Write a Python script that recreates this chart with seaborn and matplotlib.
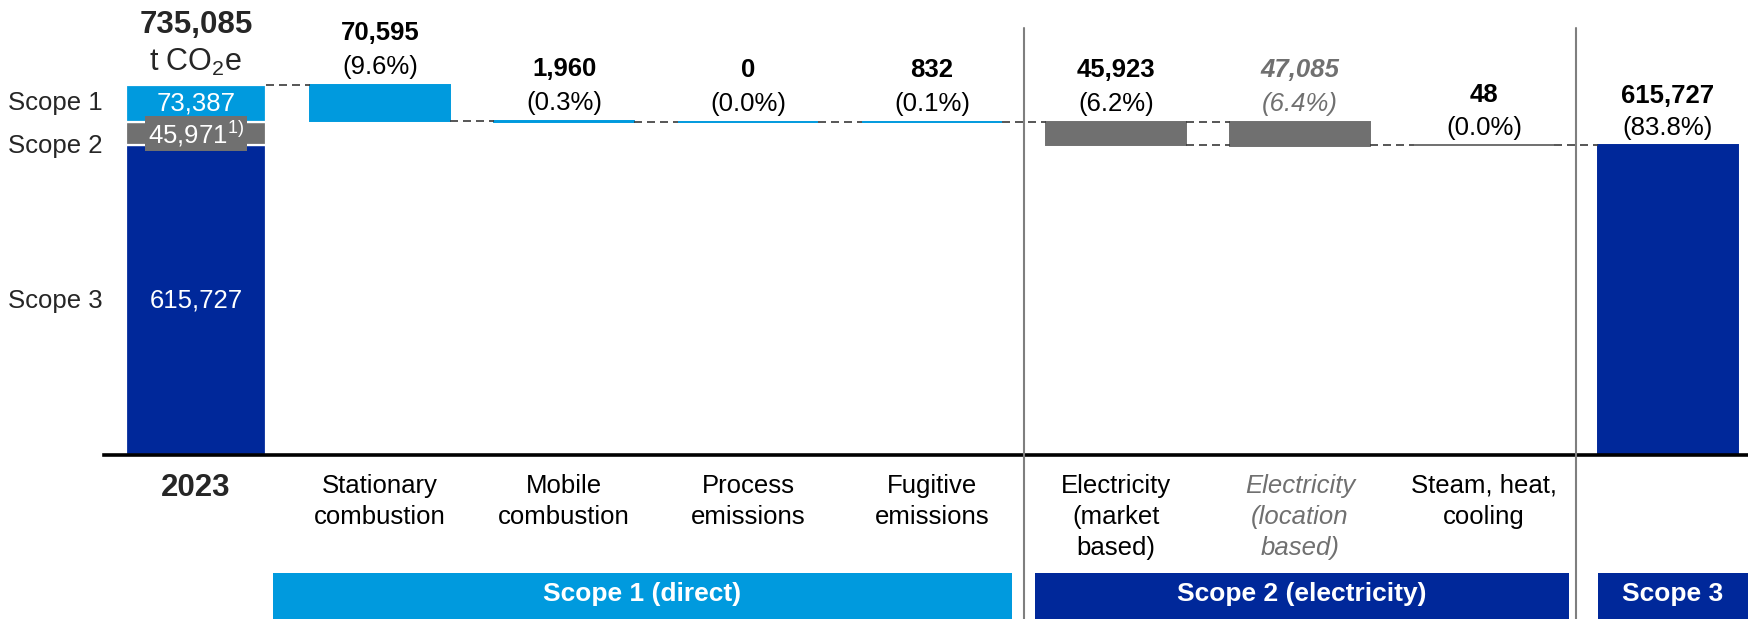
import numpy as np
import pandas as pd
import matplotlib
matplotlib.use("Agg")
import matplotlib.pyplot as plt
from matplotlib.patches import Rectangle
from matplotlib.lines import Line2D
from matplotlib.transforms import blended_transform_factory
import seaborn as sns

# ---- data -------------------------------------------------------------
total_2023 = 735085
scope_totals = [73387, 45971, 615727]          # Scope 1, Scope 2, Scope 3
scope_names = ["Scope 1", "Scope 2", "Scope 3"]

step_labels = ["Stationary\ncombustion", "Mobile\ncombustion", "Process\nemissions",
               "Fugitive\nemissions", "Electricity\n(market\nbased)",
               "Electricity\n(location\nbased)", "Steam, heat,\ncooling"]
step_values = [70595, 1960, 0, 832, 45923, 47085, 48]
step_scope = [1, 1, 1, 1, 2, 2, 2]
step_alt = [False, False, False, False, False, True, False]   # location-based: shown for reference only

scope3_value = 615727
year_label = "2023"
band_labels = ["Scope 1 (direct)", "Scope 2 (electricity)", "Scope 3"]

# ---- style ------------------------------------------------------------
C_S1 = "#009ADE"
C_S2 = "#707070"
C_S3 = "#00289A"
C_DASH = "#3a3a3a"
C_SEP = "#7f7f7f"

sns.set_theme(style="white")
plt.rcParams["font.family"] = ["Liberation Sans", "DejaVu Sans"]
plt.rcParams["mathtext.fontset"] = "custom"
plt.rcParams["mathtext.rm"] = "Liberation Sans"
plt.rcParams["mathtext.it"] = "Liberation Sans:italic"
plt.rcParams["mathtext.bf"] = "Liberation Sans:bold"

W, H, DPI = 1748, 619, 100
fig = plt.figure(figsize=(W / DPI, H / DPI), dpi=DPI)
base_px = 455
ax = fig.add_axes([104 / W, 1 - base_px / H, 1 - 104 / W, base_px / H])

# ---- build bar segments ----------------------------------------------
rows = []
# stacked 2023 bar (bottom to top: scope 3, scope 2, scope 1)
stack_colors = {1: C_S1, 2: C_S2, 3: C_S3}
lo = 0
for k in (3, 2, 1):
    v = scope_totals[k - 1]
    rows.append(dict(seg=f"2023-s{k}", pos=0, low=lo, high=lo + v,
                     color=stack_colors[k], stacked=True))
    lo += v

# waterfall steps; an alternative step starts where the previous step started
level = total_2023
step_ranges = []
for i, (v, sc, alt) in enumerate(zip(step_values, step_scope, step_alt)):
    top = step_ranges[i - 1][0] if alt else level
    bot = top - v
    step_ranges.append((top, bot))
    rows.append(dict(seg=f"step{i}", pos=i + 1, low=bot, high=top,
                     color=C_S1 if sc == 1 else C_S2, stacked=False))
    if not alt:
        level = bot
rows.append(dict(seg="scope3", pos=len(step_values) + 1, low=0, high=scope3_value,
                 color=C_S3, stacked=False))

df = pd.DataFrame(rows)
df["height"] = df["high"] - df["low"]

bar_w = 0.761
sns.barplot(data=df, x="pos", y="height", hue="seg", hue_order=list(df["seg"]),
            palette=dict(zip(df["seg"], df["color"])), dodge=False,
            native_scale=True, width=bar_w, saturation=1, legend=False, ax=ax)

for patch, r in zip(ax.patches, df.itertuples()):
    patch.set_y(r.low)
    patch.set_height(r.high - r.low)
    if r.stacked:
        patch.set_edgecolor("white")
        patch.set_linewidth(1.6)
    else:
        patch.set_edgecolor(r.color)
        patch.set_linewidth(1.4)

ax.set_xlim(-0.5, (W - 196) / 184)
ax.set_ylim(0, total_2023 * base_px / 370)
ax.set_xlabel("")
ax.set_ylabel("")
ax.set_xticks([])
ax.set_yticks([])
for s in ("left", "right", "top"):
    ax.spines[s].set_visible(False)
ax.spines["bottom"].set_color("black")
ax.spines["bottom"].set_linewidth(2.6)

# ---- dashed connectors ------------------------------------------------
half = bar_w / 2
dash_kw = dict(color=C_DASH, lw=1.2, linestyle=(0, (4.8, 3)), clip_on=False, zorder=1)
ax.plot([0 + half, 1 - half], [total_2023] * 2, **dash_kw)
for i in range(len(step_values) - 1):
    top_i, bot_i = step_ranges[i]
    x0, x1 = i + 1 + half, i + 2 - half
    if step_alt[i + 1]:
        # parallel alternative bar: connect at both ends
        ax.plot([x0, x1], [top_i] * 2, **dash_kw)
        ax.plot([x0, x1], [bot_i] * 2, **dash_kw)
    else:
        ax.plot([x0, x1], [step_ranges[i + 1][0]] * 2, **dash_kw)
last = len(step_values)
ax.plot([last + half, last + 1 - half], [scope3_value] * 2, **dash_kw)

# ---- value labels -----------------------------------------------------
FS = 18.5
def pct(v):
    return f"({100 * v / total_2023:.1f}%)"

def top_labels(x, top, val, alt=False, dv=52, dp=18):
    col = C_S2 if alt else "black"
    style = "italic" if alt else "normal"
    ax.annotate(f"{val:,}", (x, top), xytext=(0, dv), textcoords="offset pixels",
                ha="center", va="center", fontsize=FS, fontweight="bold",
                color=col, style=style, annotation_clip=False)
    ax.annotate(pct(val), (x, top), xytext=(0, dp), textcoords="offset pixels",
                ha="center", va="center", fontsize=FS, color=col, style=style,
                annotation_clip=False)

for i, v in enumerate(step_values):
    small2 = v < 1000 and step_scope[i] == 2
    top_labels(i + 1, step_ranges[i][0], v, alt=step_alt[i],
               dv=50 if small2 else 52, dp=17 if small2 else 18)
top_labels(last + 1, scope3_value, scope3_value, dv=49, dp=17)

ax.annotate(f"{total_2023:,}", (0, total_2023), xytext=(0, 60), textcoords="offset pixels",
            ha="center", va="center", fontsize=22.5, fontweight="bold", annotation_clip=False)
ax.annotate(r"t CO$_\mathregular{2}$e", (0, total_2023), xytext=(0, 23), textcoords="offset pixels",
            ha="center", va="center", fontsize=22, annotation_clip=False)

# values inside the stacked bar
s1_mid = total_2023 - scope_totals[0] / 2
s2_mid = scope_totals[2] + scope_totals[1] / 2
s3_mid = scope_totals[2] / 2
ax.text(0, s1_mid, f"{scope_totals[0]:,}", ha="center", va="center", color="white", fontsize=FS)
ax.text(0, s2_mid, f"{scope_totals[1]:,}" + r"$^{\mathregular{1)}}$", ha="center", va="center",
        color="white", fontsize=FS,
        bbox=dict(boxstyle="square,pad=0.1", fc=C_S2, ec="none"))
ax.text(0, s3_mid, f"{scope_totals[2]:,}", ha="center", va="center", color="white", fontsize=FS)

# scope names left of the stacked bar
for name, y, dy in zip(scope_names, [s1_mid, s2_mid, s3_mid], [0, -12, -1]):
    ax.annotate(name, xy=(8 / W, y), xycoords=("figure fraction", "data"),
                xytext=(0, dy), textcoords="offset pixels",
                ha="left", va="center", fontsize=FS, annotation_clip=False)

# ---- category labels --------------------------------------------------
ax.annotate(year_label, (0, 0), xytext=(0, -18), textcoords="offset pixels",
            ha="center", va="top", fontsize=22.5, fontweight="bold", annotation_clip=False)
for i, lab in enumerate(step_labels):
    alt = step_alt[i]
    ax.annotate(lab, (i + 1, 0), xytext=(0, -19), textcoords="offset pixels",
                ha="center", va="top", fontsize=18.5, linespacing=1.38,
                color=C_S2 if alt else "black", style="italic" if alt else "normal",
                annotation_clip=False)

# ---- group separators and scope bands ---------------------------------
bt = blended_transform_factory(ax.transData, fig.transFigure)
for xs in (4.5, 7.5):
    fig.add_artist(Line2D([xs, xs], [0, 1 - 28 / H], transform=bt, color=C_SEP, lw=1.5))

band_h = (H - 573) / H
bands = [(0.418, 4.435, C_S1), (4.56, 7.46, C_S3), (7.62, 8.6, C_S3)]
for (x0, x1, c), lab in zip(bands, band_labels):
    fig.add_artist(Rectangle((x0, 0), x1 - x0, band_h, transform=bt, fc=c, ec="none"))
    xm = (x0 + min(x1, (W - 196) / 184)) / 2
    fig.text(xm, band_h / 2 + 0.003, lab, transform=bt, ha="center", va="center",
             color="white", fontsize=19, fontweight="bold")

fig.savefig("out.png", dpi=DPI)
